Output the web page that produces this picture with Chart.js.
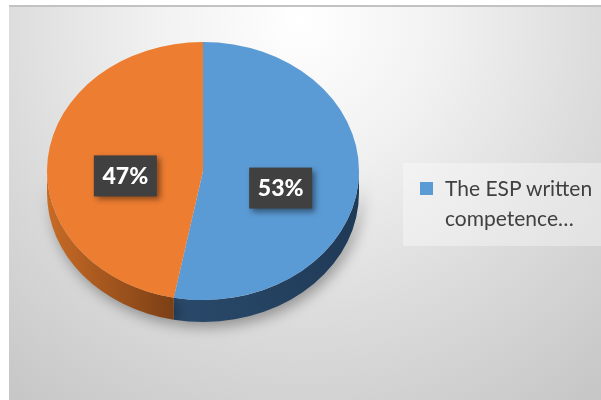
<!DOCTYPE html>
<html>
<head>
<meta charset="utf-8">
<script src="https://cdn.jsdelivr.net/npm/chart.js@4.4.0/dist/chart.umd.min.js"></script>
<style>
  body { margin: 0; background: #fff; }
  #wrap { position: relative; width: 601px; height: 400px; }
  #legend {
    position: absolute; left: 403px; top: 163px; width: 198px; height: 83px;
    background: rgba(255, 255, 255, 0.35);
    font-family: Lato, 'Open Sans', sans-serif; font-size: 21px; color: #404040;
  }
  #legend .box { position: absolute; left: 17px; top: 19px; width: 13px; height: 13px; }
  #legend .txt { position: absolute; left: 42px; top: 10px; line-height: 30px; white-space: nowrap; }
</style>
</head>
<body>
<div id="wrap">
  <canvas id="pie" width="601" height="400"></canvas>
  <div id="legend"></div>
</div>
<script>
// pie data
var categories = ['The ESP written competence…', ''];
var shares = [53, 47];
var legendLines = ['The ESP written', 'competence…'];

var topColors = ['#5b9bd5', '#ed7d31'];
var sideColors = [['#2a4a6b', '#1f3a57'], ['#c86b26', '#7c3f15']];

var DEPTH = 22;
var TILT = 0.827;

// draws the 3d rim under the tilted pie
function drawSide(ctx, arcs) {
  arcs.forEach(function (arc, i) {
    var p = arc.getProps(['x', 'y', 'startAngle', 'endAngle', 'outerRadius']);
    var rx = p.outerRadius, ry = rx * TILT;
    var ranges = [[0, Math.PI], [2 * Math.PI, 3 * Math.PI]];
    ranges.forEach(function (r) {
      var a = Math.max(p.startAngle, r[0]);
      var b = Math.min(p.endAngle, r[1]);
      if (b <= a) return;
      var x1 = p.x + rx * Math.cos(a), x2 = p.x + rx * Math.cos(b);
      var g = ctx.createLinearGradient(Math.min(x1, x2), 0, Math.max(x1, x2), 0);
      var c = sideColors[i];
      if (x1 > x2) { g.addColorStop(0, c[0]); g.addColorStop(1, c[1]); }
      else { g.addColorStop(0, c[1]); g.addColorStop(1, c[0]); }
      ctx.save();
      ctx.shadowColor = 'rgba(0,0,0,0.35)';
      ctx.shadowBlur = 14;
      ctx.shadowOffsetX = 3;
      ctx.shadowOffsetY = 5;
      ctx.beginPath();
      ctx.ellipse(p.x, p.y, rx, ry, 0, a, b);
      ctx.ellipse(p.x, p.y + DEPTH, rx, ry, 0, b, a, true);
      ctx.closePath();
      ctx.fillStyle = g;
      ctx.fill();
      ctx.restore();
    });
  });
}

var tiltPlugin = {
  id: 'tilt',
  beforeDraw: function (chart) {
    var ctx = chart.ctx;
    ctx.save();
    ctx.fillStyle = '#ffffff';
    ctx.fillRect(0, 0, chart.width, chart.height);
    var g = ctx.createRadialGradient(300, 20, 0, 300, 20, 480);
    g.addColorStop(0, '#ffffff');
    g.addColorStop(0.3, '#f1f1f1');
    g.addColorStop(0.62, '#dcdcdc');
    g.addColorStop(1, '#c6c6c6');
    ctx.fillStyle = g;
    ctx.fillRect(9, 6, chart.width - 9, chart.height - 6);
    ctx.fillStyle = '#c2c2c2';
    ctx.fillRect(9, 5, chart.width - 9, 2);
    ctx.restore();
  },
  beforeDatasetsDraw: function (chart) {
    var ctx = chart.ctx;
    var arcs = chart.getDatasetMeta(0).data;
    drawSide(ctx, arcs);
    var cx = arcs[0].x, cy = arcs[0].y;
    ctx.save();
    ctx.translate(cx, cy);
    ctx.scale(1, TILT);
    ctx.translate(-cx, -cy);
  },
  afterDatasetsDraw: function (chart) {
    var ctx = chart.ctx;
    ctx.restore();
    var data = chart.data.datasets[0].data;
    var total = data.reduce(function (s, v) { return s + v; }, 0);
    chart.getDatasetMeta(0).data.forEach(function (arc, i) {
      var pos = arc.tooltipPosition();
      var x = pos.x;
      var y = arc.y + DEPTH / 2 + (pos.y - arc.y) * TILT;
      var w = 63, h = 41;
      ctx.save();
      ctx.shadowColor = 'rgba(0,0,0,0.45)';
      ctx.shadowBlur = 6;
      ctx.shadowOffsetX = 3;
      ctx.shadowOffsetY = 3;
      ctx.fillStyle = '#404040';
      ctx.fillRect(x - w / 2, y - h / 2, w, h);
      ctx.restore();
      ctx.save();
      ctx.fillStyle = '#ffffff';
      ctx.font = '900 23px Lato, "Open Sans", sans-serif';
      ctx.textAlign = 'center';
      ctx.textBaseline = 'middle';
      ctx.fillText(Math.round(data[i] / total * 100) + '%', x, y + 1);
      ctx.restore();
    });
  }
};

var ctx = document.getElementById('pie').getContext('2d');
var chart = new Chart(ctx, {
  type: 'pie',
  data: {
    labels: categories,
    datasets: [{
      data: shares,
      backgroundColor: topColors,
      borderWidth: 0
    }]
  },
  options: {
    responsive: false,
    animation: false,
    layout: { padding: { left: 47, right: 242, top: 15, bottom: 73 } },
    plugins: {
      legend: { display: false },
      tooltip: { enabled: false }
    }
  },
  plugins: [tiltPlugin]
});

// legend: only the first category is shown, as in the original
var legend = document.getElementById('legend');
legend.innerHTML = '<span class="box" style="background:' + topColors[0] + '"></span>' +
  '<div class="txt">' + legendLines.join('<br>') + '</div>';
</script>
</body>
</html>
